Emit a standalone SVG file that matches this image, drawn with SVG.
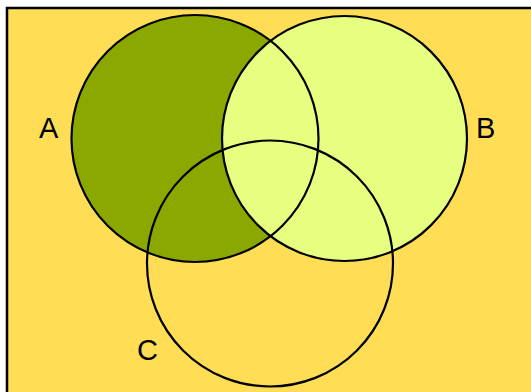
<svg xmlns="http://www.w3.org/2000/svg" width="531" height="392" viewBox="0 0 531 392">
<style>
.o{fill:none;stroke:#000;stroke-width:2.2}
.t{font-family:"Liberation Sans",Arial,sans-serif;font-size:29px;fill:#000}
</style>
<defs>
<clipPath id="clipA"><circle cx="195" cy="138.5" r="123.5"/></clipPath>
</defs>
<rect id="frame" x="7" y="8" width="540" height="400" fill="#FFDD55" stroke="#000" stroke-width="2.5"/>
<g id="fills">
<circle cx="344.5" cy="138.5" r="122.5" fill="#E6FF80"/>
<circle cx="195" cy="138.5" r="123.5" fill="#8AA800"/>
<circle cx="344.5" cy="138.5" r="122.5" fill="#E6FF80" clip-path="url(#clipA)"/>
</g>
<g id="A"><circle class="o" cx="195" cy="138.5" r="123.5"/><text class="t" x="39" y="137.5">A</text></g>
<g id="B"><circle class="o" cx="344.5" cy="138.5" r="122.5"/><text class="t" x="476" y="137.5">B</text></g>
<g id="C"><circle class="o" cx="270" cy="263.5" r="123"/><text class="t" x="137" y="360">C</text></g>
<g id="connectors"/>
</svg>
